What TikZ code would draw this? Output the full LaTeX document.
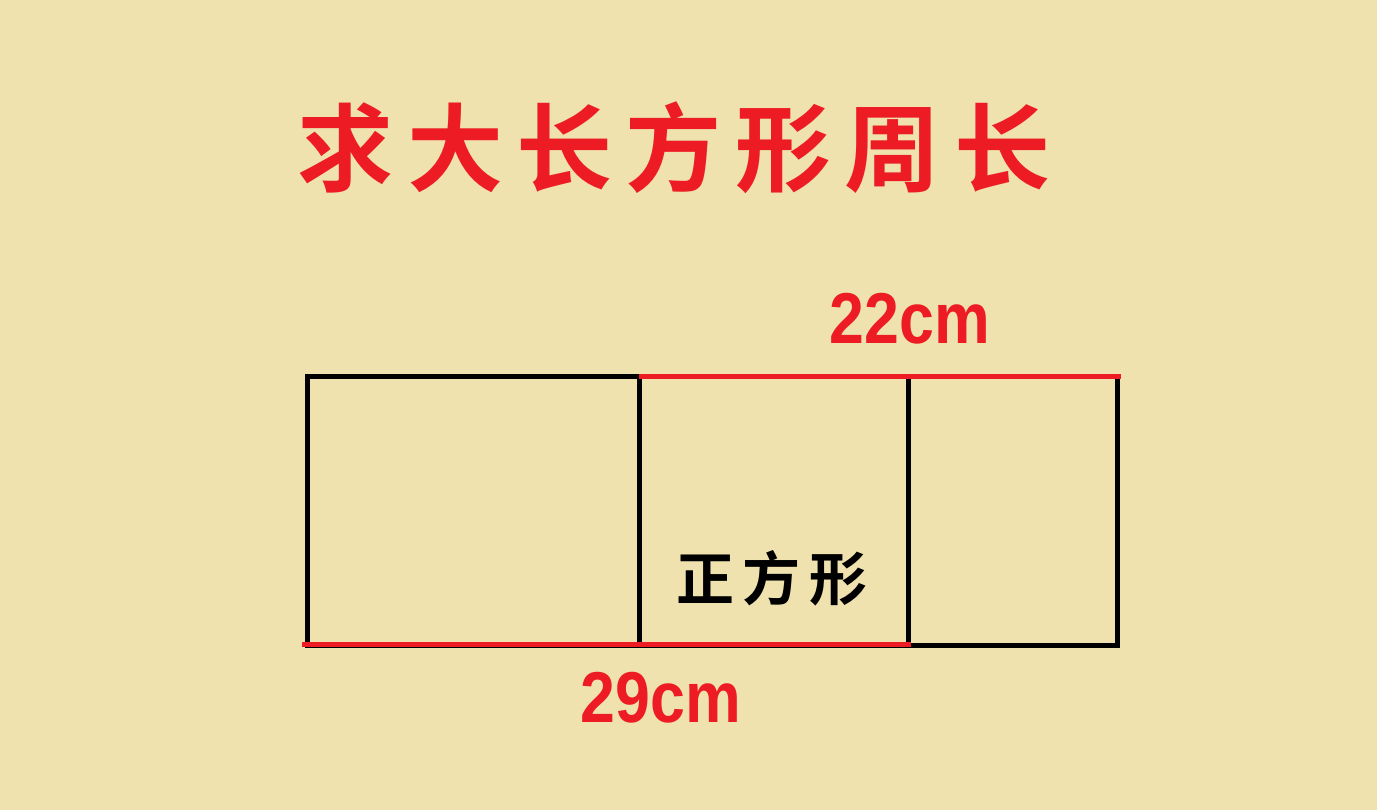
\documentclass[tikz,border=0pt]{standalone}
\usepackage{fontspec}
\setmainfont{Liberation Sans}
\newfontfamily\cjk{Noto Sans CJK SC}[BoldFont={Noto Sans CJK SC Bold}]
\definecolor{bgc}{RGB}{239,226,174}
\definecolor{redc}{RGB}{237,28,36}
\tikzset{
  edge/.style={line width=5pt, black},
  redline/.style={line width=5pt, redc},
  dimlabel/.style={text=redc, font=\fontsize{72}{80}\selectfont\bfseries, anchor=base, inner sep=0pt},
}
\begin{document}
\begin{tikzpicture}[x=1pt,y=-1pt]
\useasboundingbox (0,0) rectangle (1377,810);
\fill[bgc] (0,0) rectangle (1377,810);
% corners
\coordinate (A) at (307.5,377);
\coordinate (B) at (639,377);
\coordinate (C) at (908.5,377);
\coordinate (D) at (1117.5,377);
\coordinate (A2) at (307.5,645.5);
\coordinate (B2) at (639,645.5);
\coordinate (C2) at (908.5,645.5);
\coordinate (D2) at (1117.5,645.5);
\draw[edge] (A) -- (D) -- (D2) -- (A2) -- cycle;
\draw[edge] (B) -- (B2);
\draw[edge] (C) -- (C2);
\coordinate (r1) at (639,377);
\coordinate (r2) at (1120.5,377);
\coordinate (r3) at (302,644);
\coordinate (r4) at (910.5,644);
\draw[redline] (r1) -- (r2);
\draw[redline] (r3) -- (r4);
% labels
\node[dimlabel] (top) at (910,344) {\scalebox{0.87}[1]{22cm}};
\node[dimlabel] (bot) at (661,722) {\scalebox{0.87}[1]{29cm}};
\node[anchor=base, inner sep=0pt, font=\cjk\bfseries\fontsize{58}{64}\selectfont] (sq) at (772,600) {\addfontfeature{LetterSpace=15}正方形\hspace{-8.7pt}};
\node[anchor=base, inner sep=0pt, text=redc, font=\cjk\bfseries\fontsize{96}{104}\selectfont] (title) at (674,185) {\addfontfeature{LetterSpace=14}求大长方形周长\hspace{-13.4pt}};
\end{tikzpicture}
\end{document}
